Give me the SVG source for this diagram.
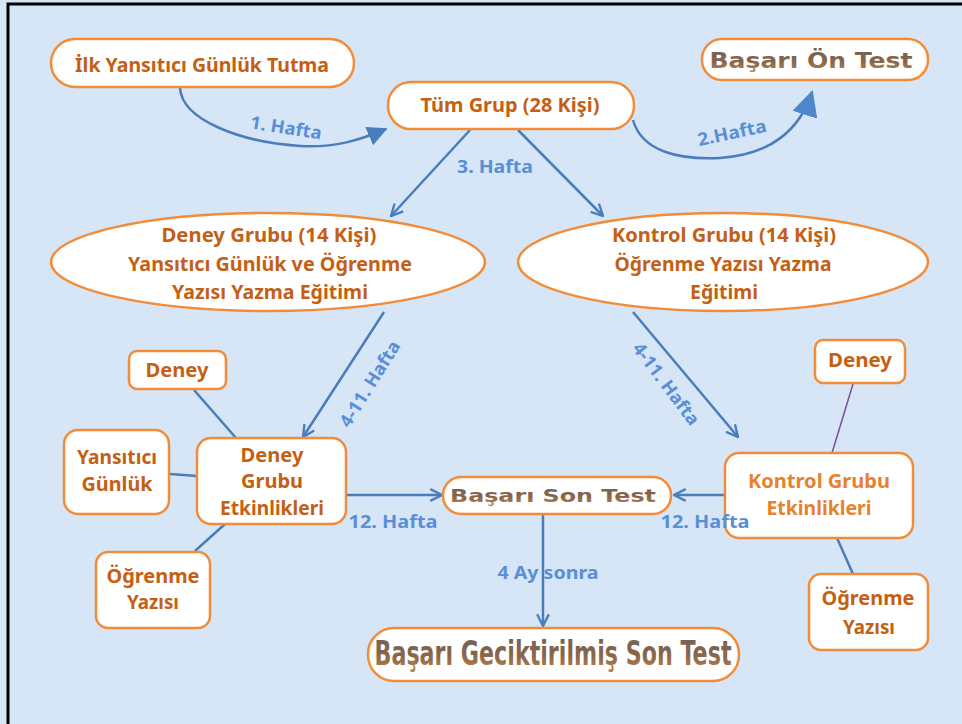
<svg xmlns="http://www.w3.org/2000/svg" width="962" height="724" viewBox="0 0 962 724">
<defs>
<style>
.node{fill:#fff;stroke:#f28c38;stroke-width:2.5}
.t{font-family:"Noto Sans","Liberation Sans",sans-serif;font-weight:bold;fill:#c55f14;text-anchor:middle;font-size:20px}
.t2{font-family:"Noto Sans","Liberation Sans",sans-serif;font-weight:bold;fill:#e8812f;text-anchor:middle;font-size:20px}
.w{font-family:"DejaVu Sans","Liberation Sans",sans-serif;font-weight:bold;fill:url(#wa);text-anchor:middle}
.lbl{font-family:"Noto Sans","Liberation Sans",sans-serif;font-weight:bold;fill:#5a8fd6;text-anchor:middle;font-size:18px}
.c{stroke:#4a7dbb;stroke-width:2.5;fill:none}
</style>
<linearGradient id="wa" x1="0" y1="0" x2="0" y2="1">
<stop offset="0" stop-color="#6b625c"/>
<stop offset="0.55" stop-color="#8a6548"/>
<stop offset="1" stop-color="#b98650"/>
</linearGradient>
<marker id="v" viewBox="0 0 12 12" refX="11" refY="6" markerWidth="14" markerHeight="14" markerUnits="userSpaceOnUse" orient="auto">
<path d="M1,1 L11,6 L1,11" fill="none" stroke="#4a7dbb" stroke-width="2"/>
</marker>
<marker id="tri" viewBox="0 0 12 12" refX="11" refY="6" markerWidth="20" markerHeight="20" markerUnits="userSpaceOnUse" orient="auto">
<path d="M0,0 L12,6 L0,12 Z" fill="#4a7dbb"/>
</marker>
<marker id="tri2" viewBox="0 0 12 12" refX="11" refY="6" markerWidth="26" markerHeight="26" markerUnits="userSpaceOnUse" orient="auto">
<path d="M0,0 L12,6 L0,12 Z" fill="#4f87cc"/>
</marker>
</defs>
<rect x="0" y="0" width="962" height="724" fill="#d6e6f6"/>
<path d="M8,730 L8,4 L970,4" fill="none" stroke="#000" stroke-width="3"/>

<g id="connectors">
<path class="c" d="M180,88 C182,120 240,142 300,146 C335,148 360,140 386,129" marker-end="url(#tri)"/>
<path class="c" d="M633,120 C642,152 680,160 720,158 C770,155 800,130 812,92" stroke-width="4" marker-end="url(#tri2)"/>
<line class="c" x1="470" y1="130" x2="391" y2="216" marker-end="url(#v)"/>
<line class="c" x1="518" y1="130" x2="603" y2="216" marker-end="url(#v)"/>
<line class="c" x1="384" y1="312" x2="303" y2="437" marker-end="url(#v)"/>
<line class="c" x1="633" y1="312" x2="738" y2="437" marker-end="url(#v)"/>
<line class="c" x1="347" y1="495" x2="442" y2="495" marker-end="url(#v)"/>
<line class="c" x1="732" y1="495" x2="674" y2="495" marker-end="url(#v)"/>
<line class="c" x1="543" y1="508" x2="543" y2="626" marker-end="url(#v)"/>
<line class="c" x1="194" y1="390" x2="236" y2="438" stroke-width="3.5"/>
<line class="c" x1="170" y1="474" x2="197" y2="476" stroke-width="3.5"/>
<line class="c" x1="195" y1="551" x2="225" y2="524" stroke-width="3.5"/>
<line x1="853" y1="384" x2="832" y2="453" stroke="#7a4fa0" stroke-width="1.5"/>
<line class="c" x1="837" y1="538" x2="853" y2="574" stroke-width="3.5"/>
<text class="lbl" x="286" y="134" transform="rotate(9 286 128)" textLength="72" lengthAdjust="spacingAndGlyphs">1. Hafta</text>
<text class="lbl" x="732" y="139" font-size="16" transform="rotate(-12 732 133)" textLength="70" lengthAdjust="spacingAndGlyphs">2.Hafta</text>
<text class="lbl" x="495" y="173" textLength="76" lengthAdjust="spacingAndGlyphs">3. Hafta</text>
<text class="lbl" x="370" y="390" transform="rotate(-58 370 384)" textLength="98" lengthAdjust="spacingAndGlyphs">4-11. Hafta</text>
<text class="lbl" x="666" y="390" transform="rotate(53 666 384)" textLength="98" lengthAdjust="spacingAndGlyphs">4-11. Hafta</text>
<text class="lbl" x="393" y="528" textLength="89" lengthAdjust="spacingAndGlyphs">12. Hafta</text>
<text class="lbl" x="548" y="579" textLength="101" lengthAdjust="spacingAndGlyphs">4 Ay sonra</text>
</g>

<g id="ilk">
<rect class="node" x="51" y="39" width="303" height="48" rx="24"/>
<text class="t" x="202" y="72" font-size="22" textLength="254" lengthAdjust="spacingAndGlyphs">İlk Yansıtıcı Günlük Tutma</text>
</g>
<g id="tum">
<rect class="node" x="388" y="82" width="246" height="47" rx="23"/>
<text class="t" x="510" y="112" font-size="22" textLength="179" lengthAdjust="spacingAndGlyphs">Tüm Grup (28 Kişi)</text>
</g>
<g id="ontest">
<rect class="node" x="702" y="39" width="226" height="41" rx="20"/>
<text class="w" x="811" y="68" font-size="21" textLength="203" lengthAdjust="spacingAndGlyphs">Başarı Ön Test</text>
</g>
<g id="deneyGrubu">
<ellipse class="node" cx="268" cy="262" rx="217" ry="49"/>
<text class="t" x="269" y="242" textLength="215" lengthAdjust="spacingAndGlyphs">Deney Grubu (14 Kişi)</text>
<text class="t" x="270" y="271" textLength="284" lengthAdjust="spacingAndGlyphs">Yansıtıcı Günlük ve Öğrenme</text>
<text class="t" x="270" y="299" textLength="196" lengthAdjust="spacingAndGlyphs">Yazısı Yazma Eğitimi</text>
</g>
<g id="kontrolGrubu">
<ellipse class="node" cx="723" cy="262" rx="205" ry="49"/>
<text class="t" x="724" y="242" textLength="224" lengthAdjust="spacingAndGlyphs">Kontrol Grubu (14 Kişi)</text>
<text class="t" x="723" y="271" textLength="217" lengthAdjust="spacingAndGlyphs">Öğrenme Yazısı Yazma</text>
<text class="t" x="724" y="299" textLength="68" lengthAdjust="spacingAndGlyphs">Eğitimi</text>
</g>
<g id="deneyL">
<rect class="node" x="129" y="351" width="97" height="38" rx="8"/>
<text class="t" x="177" y="377" textLength="63" lengthAdjust="spacingAndGlyphs">Deney</text>
</g>
<g id="yansiticiL">
<rect class="node" x="64" y="430" width="105" height="84" rx="14"/>
<text class="t" x="117" y="464" font-size="19" textLength="80" lengthAdjust="spacingAndGlyphs">Yansıtıcı</text>
<text class="t" x="117" y="491" font-size="19" textLength="71" lengthAdjust="spacingAndGlyphs">Günlük</text>
</g>
<g id="deneyEtk">
<rect class="node" x="197" y="438" width="149" height="86" rx="14"/>
<text class="t" x="272" y="462" font-size="19" textLength="63" lengthAdjust="spacingAndGlyphs">Deney</text>
<text class="t" x="272" y="488" font-size="19" textLength="62" lengthAdjust="spacingAndGlyphs">Grubu</text>
<text class="t" x="272" y="515" font-size="19" textLength="104" lengthAdjust="spacingAndGlyphs">Etkinlikleri</text>
</g>
<g id="ogrenmeL">
<rect class="node" x="96" y="552" width="114" height="76" rx="12"/>
<text class="t" x="153" y="583" font-size="19" textLength="93" lengthAdjust="spacingAndGlyphs">Öğrenme</text>
<text class="t" x="153" y="609" font-size="19" textLength="52" lengthAdjust="spacingAndGlyphs">Yazısı</text>
</g>
<g id="sonTest">
<rect class="node" x="443" y="477" width="228" height="37" rx="18"/>
<text class="w" x="553" y="502" font-size="17" textLength="206" lengthAdjust="spacingAndGlyphs">Başarı Son Test</text>
</g>
<g id="gecikTest">
<rect class="node" x="368" y="628" width="371" height="53" rx="26"/>
<text class="w" x="553" y="665" font-size="34" font-family="Noto Sans, sans-serif" textLength="357" lengthAdjust="spacingAndGlyphs">Başarı Geciktirilmiş Son Test</text>
</g>
<g id="kontrolEtk">
<rect class="node" x="725" y="453" width="188" height="85" rx="14"/>
<text class="t2" x="819" y="488" font-size="19" textLength="142" lengthAdjust="spacingAndGlyphs">Kontrol Grubu</text>
<text class="t2" x="819" y="515" font-size="19" textLength="105" lengthAdjust="spacingAndGlyphs">Etkinlikleri</text>
</g>
<g id="deneyR">
<rect class="node" x="815" y="340" width="90" height="43" rx="8"/>
<text class="t" x="860" y="367" textLength="64" lengthAdjust="spacingAndGlyphs">Deney</text>
</g>
<g id="ogrenmeR">
<rect class="node" x="809" y="574" width="119" height="76" rx="12"/>
<text class="t" x="868" y="605" font-size="18.5" textLength="93" lengthAdjust="spacingAndGlyphs">Öğrenme</text>
<text class="t" x="869" y="634" font-size="18.5" textLength="52" lengthAdjust="spacingAndGlyphs">Yazısı</text>
</g>
<g id="connector-labels-top">
<text class="lbl" x="705" y="528" textLength="89" lengthAdjust="spacingAndGlyphs">12. Hafta</text>
</g>
</svg>
